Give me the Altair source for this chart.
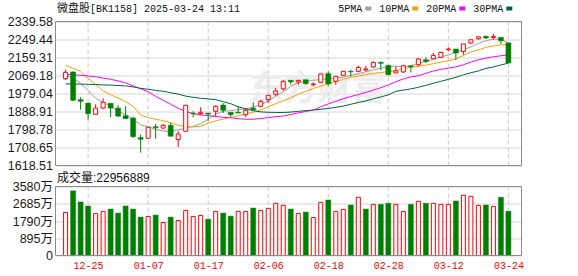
import altair as alt
import pandas as pd

# ---- data -------------------------------------------------------------
dates = [
    "12-20", "12-23", "12-24", "12-25", "12-26", "12-27", "12-30", "12-31",
    "01-02", "01-03", "01-06", "01-07", "01-08", "01-09", "01-10", "01-13",
    "01-14", "01-15", "01-16", "01-17", "01-20", "01-21", "01-22", "01-23",
    "01-24", "01-27", "02-05", "02-06", "02-07", "02-10", "02-11", "02-12",
    "02-13", "02-14", "02-17", "02-18", "02-19", "02-20", "02-21", "02-24",
    "02-25", "02-26", "02-27", "02-28", "03-03", "03-04", "03-05", "03-06",
    "03-07", "03-10", "03-11", "03-12", "03-13", "03-14", "03-17", "03-18",
    "03-19", "03-20", "03-21", "03-24",
]
opens = [
    2053, 2087, 1948, 1931, 1875, 1906, 1930, 1906, 1868, 1856,
    1758, 1755, 1813, 1806, 1820, 1748, 1790, 1881, 1878, 1881,
    1890, 1921, 1885, 1885, 1873, 1906, 1915, 1948, 1975, 2002,
    2045, 2037, 2048, 2023, 2035, 2078, 2040, 2070, 2090, 2090,
    2097, 2112, 2135, 2120, 2082, 2087, 2118, 2123, 2148, 2153,
    2160, 2198, 2202, 2190, 2232, 2253, 2265, 2260, 2260, 2232,
]
highs = [
    2098, 2090, 1961, 1931, 1925, 1955, 1930, 1920, 1916, 1863,
    1773, 1810, 1826, 1826, 1831, 1790, 1920, 1890, 1910, 1881,
    1920, 1931, 1885, 1918, 1906, 1935, 1948, 1970, 2007, 2048,
    2046, 2046, 2048, 2035, 2077, 2090, 2065, 2090, 2098, 2118,
    2118, 2140, 2140, 2123, 2115, 2123, 2118, 2157, 2160, 2182,
    2185, 2210, 2202, 2227, 2248, 2265, 2270, 2278, 2260, 2237,
]
lows = [
    2047, 1940, 1898, 1848, 1875, 1901, 1861, 1861, 1853, 1756,
    1683, 1755, 1753, 1803, 1765, 1711, 1790, 1861, 1870, 1843,
    1865, 1881, 1863, 1881, 1861, 1890, 1910, 1931, 1968, 1993,
    2023, 2023, 2023, 2015, 2035, 2018, 2023, 2070, 2065, 2085,
    2090, 2107, 2095, 2070, 2082, 2082, 2085, 2115, 2132, 2153,
    2160, 2193, 2148, 2173, 2227, 2248, 2252, 2248, 2227, 2132,
]
closes = [
    2085, 1945, 1940, 1878, 1906, 1935, 1906, 1866, 1853, 1763,
    1750, 1810, 1808, 1820, 1765, 1776, 1920, 1878, 1885, 1876,
    1915, 1895, 1873, 1881, 1895, 1898, 1940, 1970, 1992, 2040,
    2037, 2045, 2028, 2027, 2077, 2028, 2065, 2090, 2087, 2110,
    2102, 2135, 2130, 2073, 2093, 2118, 2113, 2152, 2140, 2170,
    2185, 2202, 2182, 2227, 2248, 2263, 2257, 2265, 2243, 2132,
]
# volume in units of 万
volumes = [
    2235, 3353, 2777, 2567, 2183, 2288, 2410, 2200, 2567, 2410,
    1991, 2026, 2096, 1711, 1991, 1816, 2340, 2026, 2078, 1886,
    2288, 2200, 2043, 2288, 2288, 2462, 2340, 2445, 2707, 2602,
    2410, 2183, 2253, 1973, 2759, 2881, 2288, 2393, 2620, 3021,
    2410, 2654, 2654, 2707, 2654, 2288, 2654, 2812, 2707, 2707,
    2654, 2654, 2829, 3126, 3073, 2602, 2620, 2550, 3021, 2295.69,
]
# colour of each volume bar: R = rising (hollow red), G = falling (solid green)
volume_side = list(
    "RGGGRRGGGG" "GRGRGRRRRG" "RGGRRGRRRR"
    "GRGRRGRRGR" "GRGGRRGRGR" "RRGRRRGRGG"
)
ma5 = [
    2070, 2055, 2030, 1995, 1955, 1935, 1915, 1892, 1873, 1850,
    1822, 1813, 1800, 1791, 1790, 1796, 1806, 1815, 1828, 1850,
    1876, 1890, 1894, 1898, 1902, 1912, 1922, 1942, 1965, 1988,
    2014, 2033, 2041, 2045, 2049, 2053, 2057, 2061, 2069, 2078,
    2088, 2097, 2106, 2114, 2116, 2113, 2118, 2130, 2140, 2150,
    2162, 2172, 2185, 2198, 2212, 2230, 2243, 2252, 2250, 2232,
]
ma10 = [
    2120, 2105, 2090, 2055, 2025, 1992, 1973, 1956, 1938, 1915,
    1872, 1858, 1850, 1843, 1833, 1820, 1812, 1812, 1815, 1830,
    1842, 1851, 1860, 1867, 1876, 1885, 1896, 1913, 1928, 1943,
    1958, 1975, 1990, 2004, 2016, 2027, 2039, 2050, 2060, 2067,
    2074, 2080, 2084, 2088, 2094, 2104, 2110, 2115, 2121, 2128,
    2136, 2143, 2152, 2170, 2187, 2197, 2210, 2217, 2223, 2222,
]
ma20 = [
    2075, 2073, 2070, 2067, 2063, 2056, 2050, 2042, 2032, 2017,
    2003, 1988, 1965, 1945, 1925, 1905, 1890, 1878, 1872, 1868,
    1864, 1860, 1857, 1853, 1850, 1850, 1854, 1858, 1863, 1866,
    1874, 1882, 1889, 1896, 1912, 1927, 1940, 1953, 1964, 1974,
    1984, 1996, 2008, 2022, 2038, 2052, 2062, 2068, 2080, 2092,
    2100, 2106, 2112, 2123, 2136, 2148, 2156, 2163, 2168, 2172,
]
ma30 = [
    2027, 2027, 2026, 2025, 2024, 2022, 2021, 2019, 2017, 2012,
    2005, 2000, 1995, 1990, 1983, 1976, 1966, 1960, 1955, 1952,
    1948, 1938, 1928, 1912, 1902, 1893, 1887, 1885, 1884, 1884,
    1886, 1890, 1893, 1896, 1900, 1904, 1910, 1916, 1925, 1934,
    1942, 1952, 1962, 1972, 1990, 1996, 2002, 2010, 2020, 2030,
    2040, 2050, 2060, 2073, 2083, 2092, 2105, 2112, 2122, 2131,
]

price_ticks = [1618.51, 1708.65, 1798.78, 1888.91, 1979.04,
               2069.18, 2159.31, 2249.44, 2339.58]
vol_ticks = [0, 895, 1790, 2685, 3580]
date_tick_labels = ["12-25", "01-07", "01-17", "02-06",
                    "02-18", "02-28", "03-12", "03-24"]
ma_names = ["5PMA", "10PMA", "20PMA", "30PMA"]
ma_colors = ["#a0a0a0", "#f5a300", "#ff00ff", "#00663a"]
title_name = "微盘股"
title_rest = "[BK1158] 2025-03-24 13:11"
vol_caption = "成交量:22956889"

# ---- layout -----------------------------------------------------------
W = 466            # plot width
PRICE_H = 144      # price panel spans y 0..144
VOL_TOP, VOL_BOT = 165, 234
UP, DOWN = "#ff0000", "#008000"
FRAME = "#8c8c8c"
GRID = "#d6d6d6"
MONO = "Liberation Mono"
SANS = "Liberation Sans, Noto Sans CJK SC"
CJK = "Noto Sans CJK SC"
HEAD_Y = -13       # baseline row of the heading line above the price panel

n = len(dates)
df = pd.DataFrame({
    "i": range(n), "date": dates, "open": opens, "high": highs,
    "low": lows, "close": closes, "vol": volumes,
})
df["up"] = df["close"] >= df["open"]
df["vol_up"] = [s == "R" for s in volume_side]

ma_df = pd.concat([
    pd.DataFrame({"i": range(n), "ma": name, "value": vals})
    for name, vals in zip(ma_names, [ma5, ma10, ma20, ma30])
])

tick_idx = [dates.index(d) for d in date_tick_labels]
ticks_df = pd.DataFrame({"i": tick_idx})
one = pd.DataFrame({"k": [0]})

label_array = "[" + ",".join("'%s'" % d for d in dates) + "]"
x_enc = alt.X(
    "i:Q",
    scale=alt.Scale(domain=[-0.678, 60.078], nice=False, zero=False),
    axis=alt.Axis(values=tick_idx, labelExpr=label_array + "[datum.value]",
                  grid=False, domain=False, ticks=False, title=None,
                  labelColor=UP, labelFont=MONO, labelFontSize=10,
                  labelPadding=5, labelFlush=False, labelOverlap=False),
)

price_scale = alt.Scale(domain=[price_ticks[0], price_ticks[-1]],
                        range=[PRICE_H, 0], nice=False, zero=False)
price_axis = alt.Axis(values=price_ticks, format=".2f", orient="left",
                      grid=True, gridColor=GRID, domain=False, ticks=False,
                      labelFont=SANS, labelFontSize=12.5, labelColor="#1a1a1a",
                      labelPadding=3, labelOverlap=False, title=None)


def py(field):
    return alt.Y(field, type="quantitative", scale=price_scale, axis=price_axis)


# ---- price panel --------------------------------------------------------
watermark = alt.Chart(one).mark_text(
    text="东方财富", font=CJK, fontSize=34, fontWeight="bold",
    color="#ededed", align="center", baseline="middle",
).encode(x=alt.value(262), y=alt.value(68))

vgrid_price = alt.Chart(ticks_df).mark_rule(
    color="#c8c8c8", strokeDash=[4, 3], strokeWidth=1
).encode(x=x_enc, y=alt.value(0), y2=alt.value(PRICE_H))

frame_price = alt.Chart(one).mark_rect(
    fill="transparent", stroke=FRAME, strokeWidth=1
).encode(x=alt.value(0), x2=alt.value(W), y=alt.value(0), y2=alt.value(PRICE_H))

ma_lines = alt.Chart(ma_df).mark_line(strokeWidth=1).encode(
    x=x_enc, y=py("value"),
    color=alt.Color("ma:N", scale=alt.Scale(domain=ma_names, range=ma_colors),
                    legend=None),
    detail="ma:N",
)

base = alt.Chart(df)
wick_up = base.transform_filter("datum.up").mark_rule(
    color=UP, strokeWidth=1).encode(x=x_enc, y=py("low"), y2="high")
wick_dn = base.transform_filter("!datum.up").mark_rule(
    color=DOWN, strokeWidth=1).encode(x=x_enc, y=py("low"), y2="high")
body_up = base.transform_filter("datum.up").mark_bar(
    width=4, fill="white", stroke=UP, strokeWidth=1).encode(
    x=x_enc, y=py("open"), y2="close")
body_dn = base.transform_filter("!datum.up").mark_bar(
    width=5, fill=DOWN, stroke=DOWN, strokeWidth=0.5).encode(
    x=x_enc, y=py("open"), y2="close")

# title and moving-average key above the price panel
title_a = alt.Chart(one).mark_text(
    text=title_name, font=CJK, fontSize=11, color="#111111",
    align="left", baseline="middle").encode(x=alt.value(1.5), y=alt.value(HEAD_Y))
title_b = alt.Chart(one).mark_text(
    text=title_rest, font=MONO, fontSize=10, color="#111111",
    align="left", baseline="middle").encode(x=alt.value(34.5), y=alt.value(HEAD_Y))

key_layers = []
kx = 282.8
for name, col in zip(ma_names, ma_colors):
    key_layers.append(alt.Chart(one).mark_text(
        text=name, font=MONO, fontSize=10, color="#111111",
        align="left", baseline="middle").encode(x=alt.value(kx), y=alt.value(HEAD_Y)))
    sx = kx + len(name) * 6 + 3
    key_layers.append(alt.Chart(one).mark_rect(fill=col).encode(
        x=alt.value(sx), x2=alt.value(sx + 6),
        y=alt.value(HEAD_Y - 2), y2=alt.value(HEAD_Y + 2)))
    kx = sx + 14

price_panel = alt.layer(
    watermark, vgrid_price, ma_lines, wick_up, wick_dn, body_up, body_dn,
    frame_price, title_a, title_b, *key_layers,
)

# ---- volume panel -----------------------------------------------------
vol_scale = alt.Scale(domain=[0, vol_ticks[-1]], range=[VOL_BOT, VOL_TOP],
                      nice=False)
vol_axis = alt.Axis(values=vol_ticks, orient="left", grid=True, gridColor=GRID,
                    domain=False, ticks=False, labelFont=SANS,
                    labelFontSize=12.5, labelColor="#1a1a1a", labelPadding=3,
                    labelOverlap=False, title=None,
                    labelExpr="datum.value == 0 ? '0' : datum.value + '万'")
vy = alt.Y("vol:Q", scale=vol_scale, axis=vol_axis)

vol_up = base.transform_filter("datum.vol_up").mark_bar(
    width=4, fill="white", stroke=UP, strokeWidth=1).encode(x=x_enc, y=vy)
vol_dn = base.transform_filter("!datum.vol_up").mark_bar(
    width=5, fill=DOWN, stroke=DOWN, strokeWidth=0.5).encode(x=x_enc, y=vy)

vgrid_vol = alt.Chart(ticks_df).mark_rule(
    color="#c8c8c8", strokeDash=[4, 3], strokeWidth=1
).encode(x=x_enc, y=alt.value(VOL_TOP), y2=alt.value(VOL_BOT))

frame_vol = alt.Chart(one).mark_rect(
    fill="transparent", stroke=FRAME, strokeWidth=1
).encode(x=alt.value(0), x2=alt.value(W), y=alt.value(VOL_TOP),
         y2=alt.value(VOL_BOT))

caption = alt.Chart(one).mark_text(
    text=vol_caption, font=SANS, fontSize=12, color="#111111",
    align="left", baseline="middle").encode(x=alt.value(1.5), y=alt.value(156.5))

vol_panel = alt.layer(vgrid_vol, vol_up, vol_dn, frame_vol, caption)

chart = alt.layer(price_panel, vol_panel).resolve_scale(y="independent").properties(
    width=W, height=VOL_BOT,
    padding={"left": 55.5, "top": 21.5, "right": 56.5, "bottom": 20.5},
    autosize=alt.AutoSizeParams(type="none"),
    background="white",
).configure_view(stroke=None)

chart.save("out.html", embed_options={"renderer": "svg", "actions": False})
